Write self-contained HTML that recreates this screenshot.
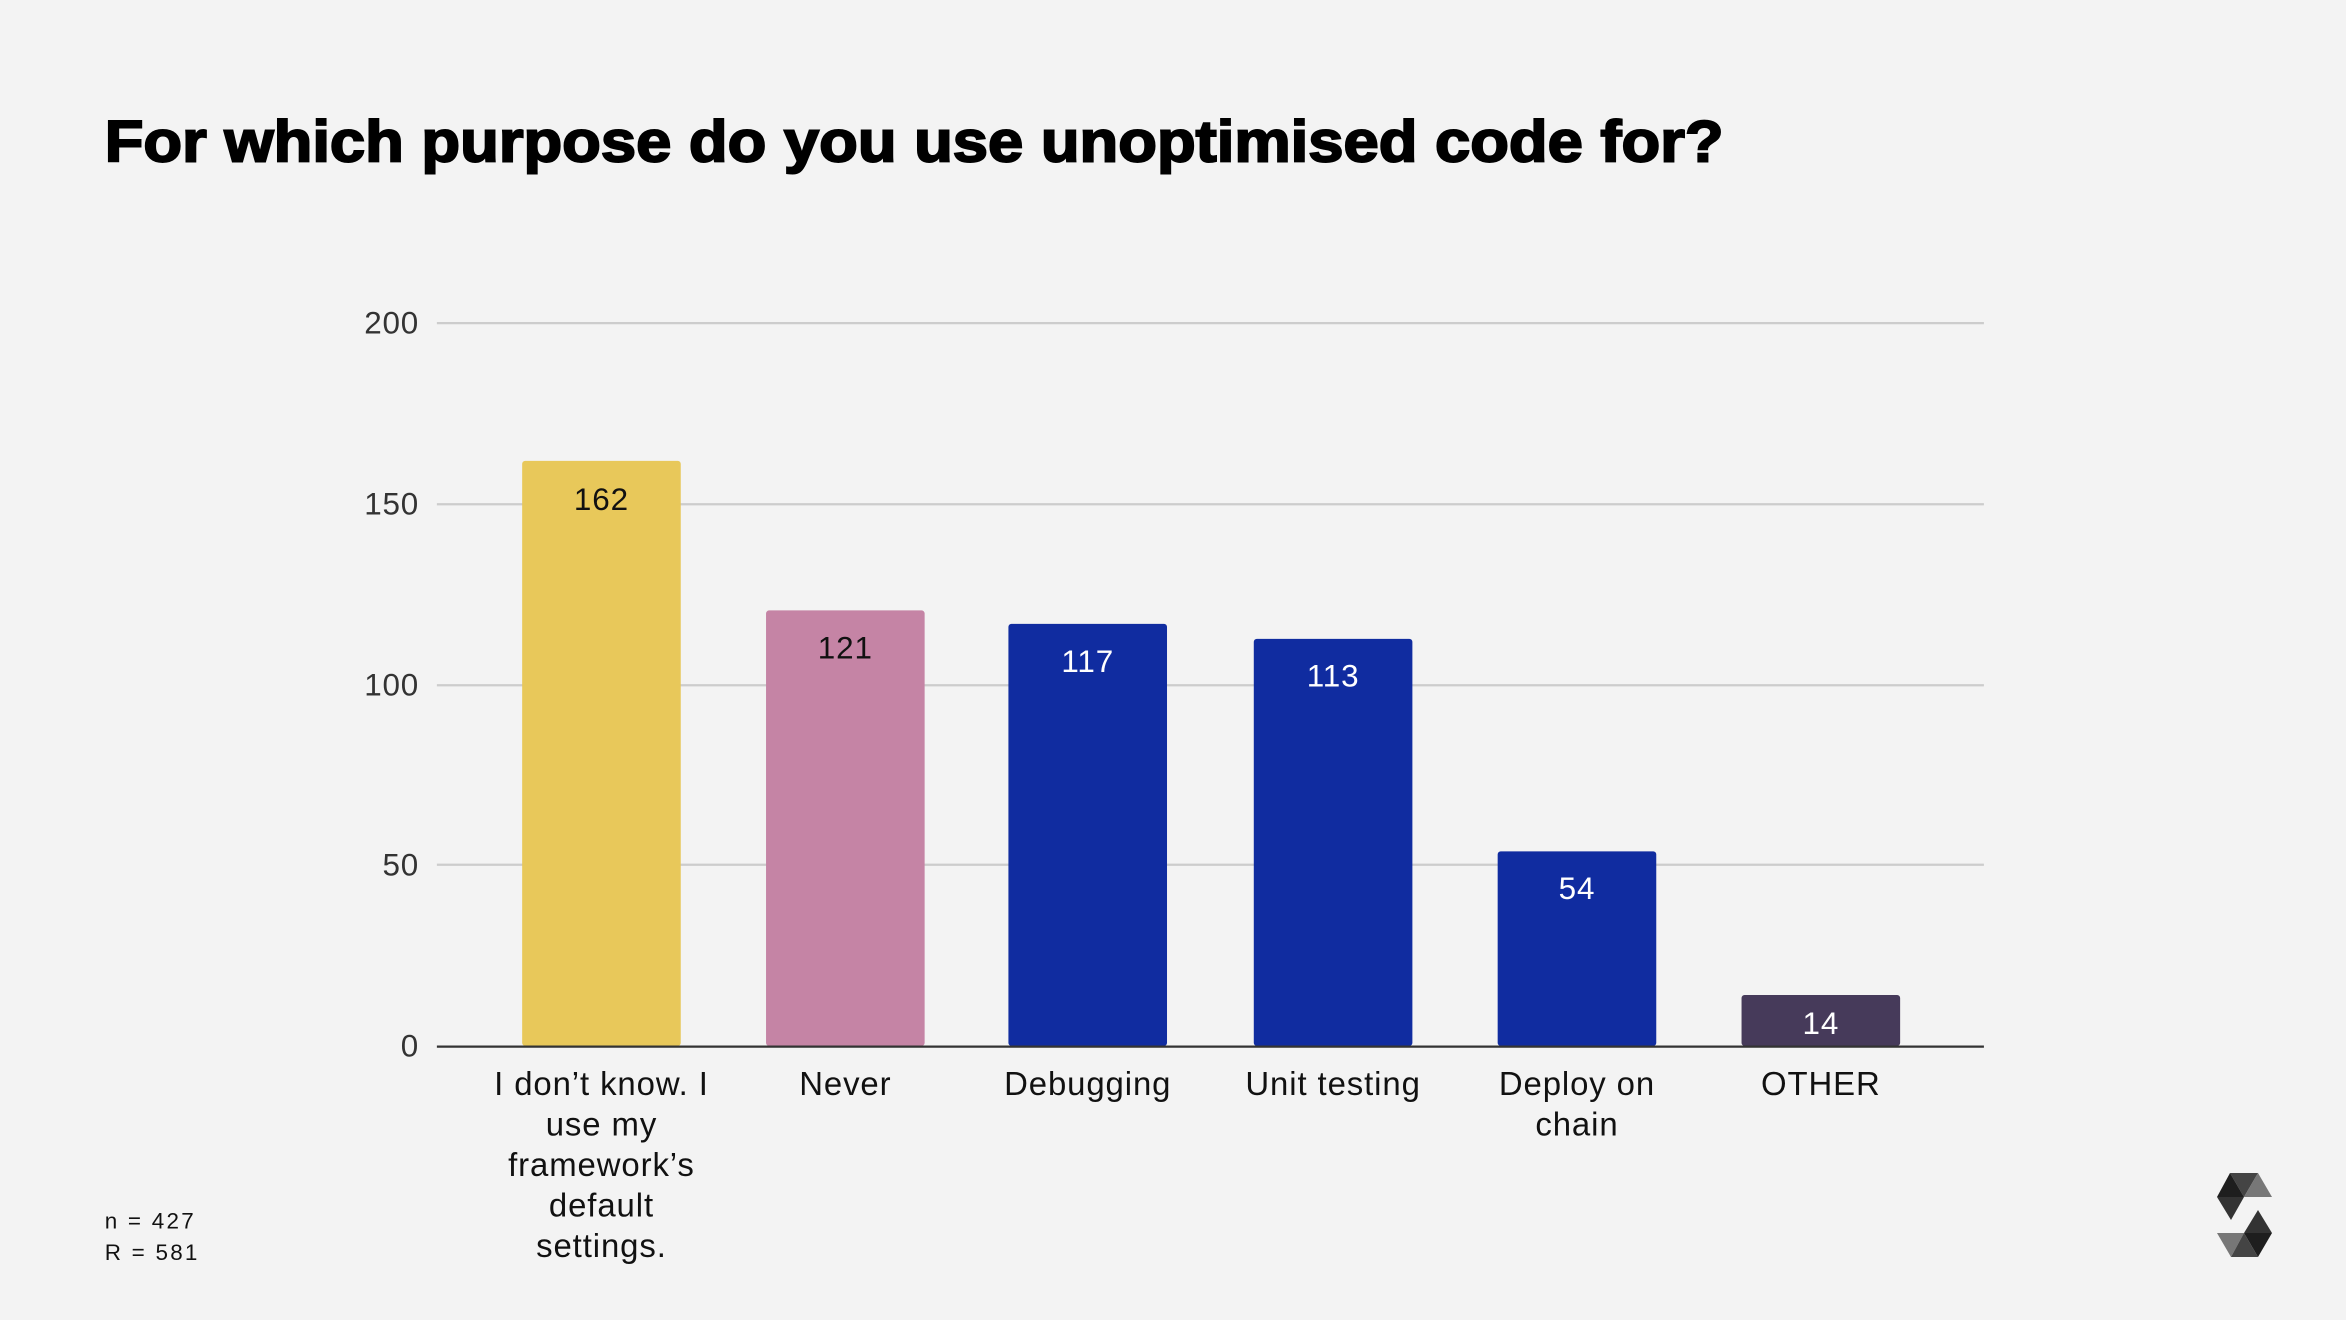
<!DOCTYPE html>
<html><head><meta charset="utf-8"><style>
html,body{margin:0;padding:0;background:#f3f3f3;}
svg{display:block;}
text{font-family:"Liberation Sans",sans-serif;}
</style></head><body>
<svg width="2346" height="1320" viewBox="0 0 2346 1320" xmlns="http://www.w3.org/2000/svg">
<rect width="2346" height="1320" fill="#f3f3f3"/>
<g transform="scale(1.49617)">
<text x="70" y="108" font-size="39" font-weight="bold" fill="#000" stroke="#000" stroke-width="1.3" textLength="1082" lengthAdjust="spacingAndGlyphs">For which purpose do you use unoptimised code for?</text>
<g stroke="#cccccc" stroke-width="1.5">
<line x1="292" y1="216" x2="1326" y2="216"/>
<line x1="292" y1="337" x2="1326" y2="337"/>
<line x1="292" y1="458" x2="1326" y2="458"/>
<line x1="292" y1="578" x2="1326" y2="578"/>
</g>
<g font-size="21" fill="#333" text-anchor="end" letter-spacing="0.5">
<text x="280" y="223">200</text>
<text x="280" y="344">150</text>
<text x="280" y="465">100</text>
<text x="280" y="585">50</text>
<text x="280" y="706">0</text>
</g>
<rect x="349" y="308" width="106" height="391" rx="2" fill="#e8c85a"/>
<rect x="512" y="408" width="106" height="291" rx="2" fill="#c584a5"/>
<rect x="674" y="417" width="106" height="282" rx="2" fill="#102ca0"/>
<rect x="838" y="427" width="106" height="272" rx="2" fill="#102ca0"/>
<rect x="1001" y="569" width="106" height="130" rx="2" fill="#102ca0"/>
<rect x="1164" y="665" width="106" height="34" rx="2" fill="#463a5a"/>
<line x1="292" y1="699.5" x2="1326" y2="699.5" stroke="#333" stroke-width="1.5"/>
<g font-size="21" text-anchor="middle" letter-spacing="0.6">
<text x="402" y="341" fill="#111">162</text>
<text x="565" y="440" fill="#111">121</text>
<text x="727" y="449" fill="#fff">117</text>
<text x="891" y="459" fill="#fff">113</text>
<text x="1054" y="601" fill="#fff">54</text>
<text x="1217" y="691" fill="#fff">14</text>
</g>
<g font-size="22" fill="#111" text-anchor="middle" letter-spacing="0.6">
<text x="402" y="732">I don’t know. I</text>
<text x="402" y="759">use my</text>
<text x="402" y="786">framework’s</text>
<text x="402" y="813">default</text>
<text x="402" y="840">settings.</text>
<text x="565" y="732">Never</text>
<text x="727" y="732">Debugging</text>
<text x="891" y="732">Unit testing</text>
<text x="1054" y="732">Deploy on</text>
<text x="1054" y="759">chain</text>
<text x="1217" y="732">OTHER</text>
</g>
<g font-size="15" fill="#111" letter-spacing="1.5">
<text x="70" y="821">n = 427</text>
<text x="70" y="842">R = 581</text>
</g>
</g>
<g>
<polygon points="2230,1173 2258,1173 2244,1197" fill="#444"/>
<polygon points="2230,1173 2244,1197 2217,1197" fill="#1e1e1e"/>
<polygon points="2258,1173 2272,1197 2244,1197" fill="#777"/>
<polygon points="2217,1197 2244,1197 2231,1220" fill="#333"/>
<polygon points="2258,1210 2272,1233 2244,1233" fill="#333"/>
<polygon points="2244,1233 2272,1233 2258,1257" fill="#1e1e1e"/>
<polygon points="2217,1233 2244,1233 2231,1257" fill="#777"/>
<polygon points="2231,1257 2258,1257 2244,1233" fill="#444"/>
</g>
</svg>
</body></html>
